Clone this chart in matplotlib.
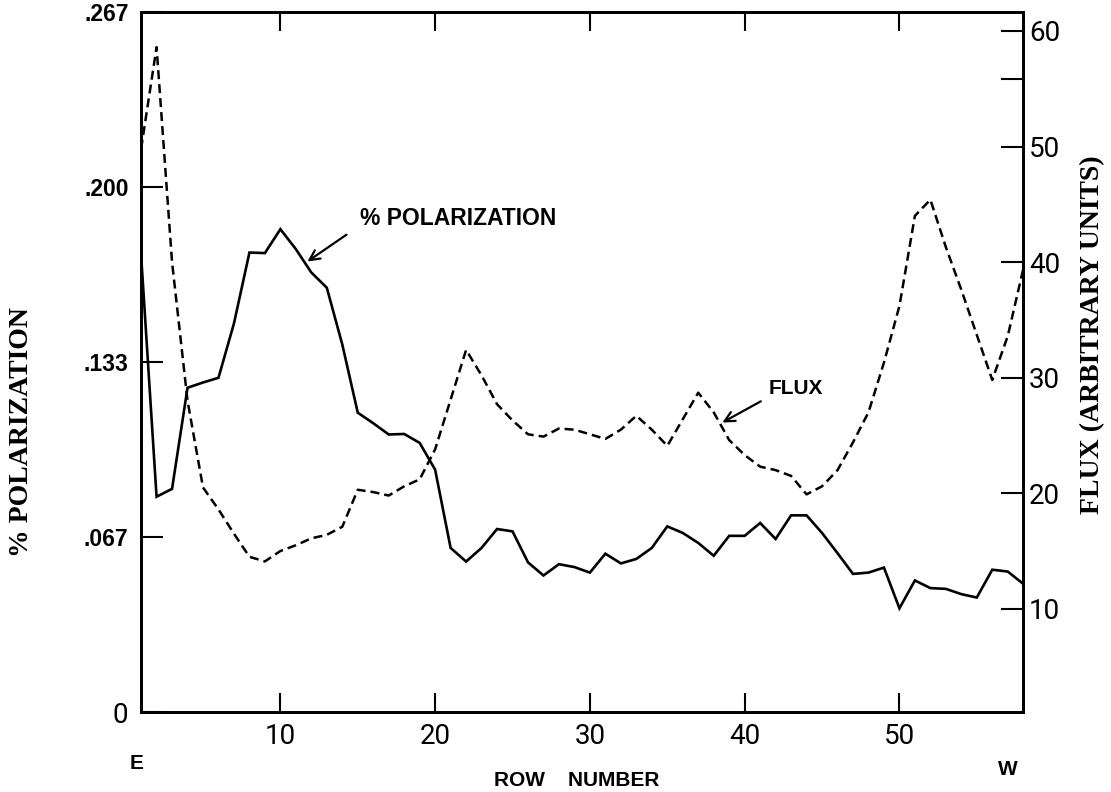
import matplotlib
matplotlib.use("Agg")
import matplotlib.pyplot as plt

# row numbers (E -> W) and the two profiles
rows = list(range(1, 59))

polarization = [0.174, 0.082, 0.085, 0.1235, 0.1255, 0.1273, 0.148, 0.175, 0.1748, 0.1839,
                0.1763, 0.1674, 0.1616, 0.140, 0.114, 0.110, 0.1057, 0.1059, 0.1025, 0.0923,
                0.0625, 0.0573, 0.0625, 0.0697, 0.0688, 0.057, 0.052, 0.0563, 0.0552, 0.0531,
                0.0603, 0.0566, 0.0583, 0.0625, 0.0707, 0.0682, 0.0644, 0.0595, 0.0671, 0.0671,
                0.072, 0.0659, 0.0749, 0.0749, 0.0682, 0.0605, 0.0526, 0.0531, 0.0550, 0.0395,
                0.0501, 0.0472, 0.0469, 0.0449, 0.0436, 0.0542, 0.0535, 0.0488]

flux = [49.8, 58.6, 40.0, 28.0, 20.5, 18.6, 16.5, 14.5, 14.1, 15.0,
        15.5, 16.1, 16.4, 17.1, 20.3, 20.1, 19.8, 20.6, 21.2, 23.8,
        28.1, 32.4, 30.2, 27.7, 26.3, 25.1, 24.9, 25.6, 25.5, 25.1,
        24.7, 25.5, 26.7, 25.5, 24.1, 26.4, 28.7, 27.0, 24.6, 23.3,
        22.3, 22.0, 21.5, 19.9, 20.6, 22.0, 24.4, 27.0, 31.3, 36.2,
        44.0, 45.4, 41.3, 37.6, 33.7, 29.8, 33.6, 39.4]

x_ticks = [10, 20, 30, 40, 50]
pol_ticks = [0, 1 / 15, 2 / 15, 3 / 15, 4 / 15]
pol_labels = ['0', '.067', '.133', '.200', '.267']
flux_ticks = [10, 20, 30, 40, 50, 60]

thin = ['Liberation Sans Narrow', 'Roboto', 'DejaVu Sans']
heavy = ['Liberation Sans', 'DejaVu Sans']
serif = ['Liberation Serif', 'DejaVu Serif']

fig = plt.figure(figsize=(11.11, 7.92), dpi=100)
ax = fig.add_axes([0.127, 0.101, 0.794, 0.884])
ax2 = ax.twinx()

ax.plot(rows, polarization, color='black', lw=1.9, solid_joinstyle='miter')
ax2.plot(rows, flux, color='black', lw=1.8, dashes=(3.6, 2.0))

ax.set_xlim(1, 58)
ax.set_ylim(0, 4 / 15)
ax2.set_ylim(1.07, 61.65)

for a in (ax, ax2):
    for s in a.spines.values():
        s.set_linewidth(2)

ax.set_xticks(x_ticks)
ax.set_xticklabels([str(t) for t in x_ticks], family=thin, fontsize=20)
ax.tick_params(axis='x', direction='in', length=14, width=1.5, top=True, pad=8)

ax.set_yticks(pol_ticks)
ax.set_yticklabels(pol_labels)
ax.tick_params(axis='y', direction='in', length=16, width=1.5, pad=9)
for i, lab in enumerate(ax.get_yticklabels()):
    if i == 0:
        lab.set_family(thin)
        lab.set_fontsize(20)
    else:
        lab.set_family(heavy)
        lab.set_fontweight('bold')
        lab.set_fontsize(16.5)

ax2.set_yticks(flux_ticks)
ax2.set_yticks([55.8], minor=True)
ax2.set_yticklabels([str(t) for t in flux_ticks], family=thin, fontsize=20)
ax2.tick_params(axis='y', which='both', direction='in', length=16, width=1.5, pad=4)

# curve labels with arrows
ax.annotate('', xy=(11.6, 0.171), xytext=(14.42, 0.1824),
            arrowprops=dict(arrowstyle='->', lw=1.6, color='black', mutation_scale=18))
ax.text(15.13, 0.188, '% POLARIZATION', family=heavy, fontweight='bold',
        fontsize=16.5, ha='left', va='center')
ax2.annotate('', xy=(38.4, 26.0), xytext=(41.2, 28.07),
             arrowprops=dict(arrowstyle='->', lw=1.6, color='black', mutation_scale=18))
ax2.text(41.52, 29.1, 'FLUX', family=heavy, fontweight='bold',
         fontsize=15, ha='left', va='center')

fig.text(0.0198, 0.4545, '% POLARIZATION', rotation=90, family=serif,
         fontweight='bold', fontsize=20, ha='center', va='center')
fig.text(0.983, 0.577, 'FLUX (ARBITRARY UNITS)', rotation=90, family=serif,
         fontweight='bold', fontsize=20, ha='center', va='center')
fig.text(0.519, 0.015, 'ROW    NUMBER', family=heavy, fontweight='bold',
         fontsize=15, ha='center', va='center')
fig.text(0.1225, 0.0366, 'E', family=heavy, fontweight='bold',
         fontsize=15, ha='center', va='center')
fig.text(0.907, 0.028, 'W', family=heavy, fontweight='bold',
         fontsize=15, ha='center', va='center')

plt.savefig('out.png', dpi=100)
